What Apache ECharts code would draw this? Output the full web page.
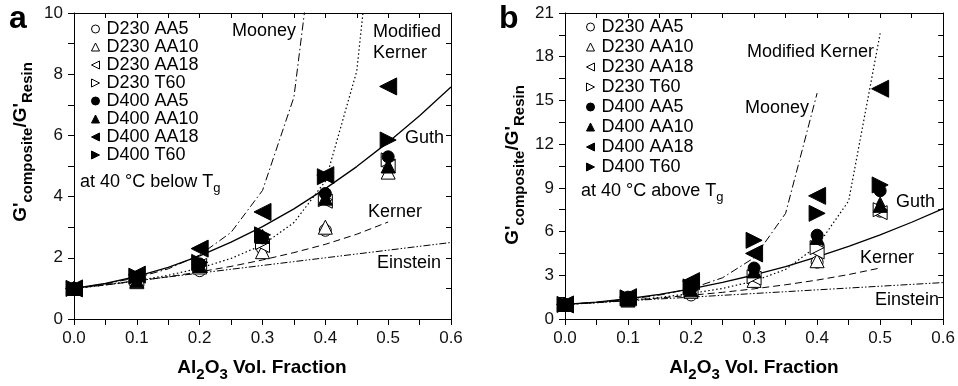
<!DOCTYPE html>
<html>
<head>
<meta charset="utf-8">
<script src="https://cdn.jsdelivr.net/npm/echarts@6/dist/echarts.min.js"></script>
<style>
html,body{margin:0;padding:0;background:#fff;}
#c{width:958px;height:386px;}
</style>
</head>
<body>
<div id="c"></div>
<script>
// ---- data ----
const xPts = [0, 0.1, 0.2, 0.3, 0.4, 0.5];
const seriesNames = ['D230 AA5','D230 AA10','D230 AA18','D230 T60','D400 AA5','D400 AA10','D400 AA18','D400 T60'];
// Panel a: 40 °C below Tg
const aD230AA5  = [1.0, 1.25, 1.58, 2.30, 2.90, 5.10];
const aD230AA10 = [1.0, 1.22, 1.70, 2.20, 3.00, 4.80];
const aD230AA18 = [1.0, 1.30, 1.75, 2.40, 3.85, 5.00];
const aD230T60  = [1.0, 1.30, 1.75, 2.50, 3.90, 5.20];
const aD400AA5  = [1.0, 1.30, 1.80, 2.65, 4.10, 5.30];
const aD400AA10 = [1.0, 1.25, 1.75, 2.70, 3.95, 5.00];
const aD400AA18 = [1.0, 1.45, 2.30, 3.50, 4.70, 7.60];
const aD400T60  = [1.0, 1.40, 1.85, 2.75, 4.65, 5.85];
// Panel b: 40 °C above Tg
const bD230AA5  = [1.0, 1.35, 1.65, 2.60, 3.90, 7.40];
const bD230AA10 = [1.0, 1.30, 1.90, 2.65, 4.00, 7.90];
const bD230AA18 = [1.0, 1.40, 2.00, 2.80, 4.60, 7.30];
const bD230T60  = [1.0, 1.40, 2.00, 2.90, 4.90, 7.50];
const bD400AA5  = [1.0, 1.50, 2.10, 3.50, 5.75, 8.80];
const bD400AA10 = [1.0, 1.35, 2.00, 3.30, 5.60, 7.80];
const bD400AA18 = [1.0, 1.50, 2.60, 4.50, 8.45, 15.80];
const bD400T60  = [1.0, 1.45, 2.20, 5.40, 7.25, 9.20];
// model curves (read at 0.05 steps)
const modelX     = [0, 0.05, 0.1, 0.15, 0.2, 0.25, 0.3, 0.35, 0.4, 0.45, 0.5, 0.55, 0.6];
const einstein   = [1.0, 1.125, 1.25, 1.375, 1.5, 1.625, 1.75, 1.875, 2.0, 2.125, 2.25, 2.375, 2.5];
const guth       = [1.0, 1.16, 1.39, 1.69, 2.06, 2.51, 3.02, 3.60, 4.26, 4.98, 5.78, 6.64, 7.58];
const kernerA    = [1.0, 1.11, 1.24, 1.38, 1.54, 1.72, 1.93, 2.17, 2.44, 2.77, 3.17];
const kernerB    = [1.0, 1.13, 1.28, 1.44, 1.63, 1.83, 2.07, 2.35, 2.67, 3.05, 3.50];
const mooney     = [1.0, 1.15, 1.35, 1.64, 2.09, 2.83, 4.20, 7.25, 15.5];
const modKernerA = [1.0, 1.11, 1.25, 1.43, 1.66, 1.98, 2.42, 3.15, 4.50, 8.10, 17.7];
const modKernerB = [1.0, 1.12, 1.28, 1.48, 1.75, 2.10, 2.60, 3.40, 5.00, 8.10, 19.6];
const xTickLabels = ['0.0','0.1','0.2','0.3','0.4','0.5','0.6'];

// ---- styles ----
const FF = '"Liberation Sans", Arial, Helvetica, sans-serif';
const TRI_LEFT = 'path://M10,0 L0,5 L10,10 Z';
const TRI_RIGHT = 'path://M0,0 L10,5 L0,10 Z';
const markers = [
  {symbol:'circle', size:12, fill:'#fff'},
  {symbol:'triangle', size:14, fill:'#fff'},
  {symbol:TRI_LEFT, size:14, fill:'#fff'},
  {symbol:TRI_RIGHT, size:14, fill:'#fff'},
  {symbol:'circle', size:12, fill:'#000'},
  {symbol:'triangle', size:14, fill:'#000'},
  {symbol:TRI_LEFT, size:17, fill:'#000'},
  {symbol:TRI_RIGHT, size:16, fill:'#000'}
];
const panelA = [aD230AA5,aD230AA10,aD230AA18,aD230T60,aD400AA5,aD400AA10,aD400AA18,aD400T60];
const panelB = [bD230AA5,bD230AA10,bD230AA18,bD230T60,bD400AA5,bD400AA10,bD400AA18,bD400T60];

function pairs(xs, ys){ return ys.map((y,i)=>[xs[i], y]); }

function curve(name, xi, yi, ys, type, width){
  return {
    name: name, type:'line', xAxisIndex:xi, yAxisIndex:yi,
    data: pairs(modelX, ys), showSymbol:false, symbol:'none', silent:true,
    clip:true, z:1,
    lineStyle:{color:'#000', width: width||1, type:type}
  };
}
function scatterSeries(panel, xi, yi){
  return panel.map((ys, k)=>({
    name: seriesNames[k], type:'scatter', xAxisIndex:xi, yAxisIndex:yi,
    data: pairs(xPts, ys), symbol: markers[k].symbol, symbolSize: markers[k].size,
    itemStyle:{color:markers[k].fill, borderColor:'#000', borderWidth:1, opacity:1},
    z:3, clip:false
  }));
}

function xAxisPair(grid){
  const base = {
    gridIndex:grid, type:'value', min:0, max:0.6, interval:0.1,
    axisLine:{show:true, onZero:false, lineStyle:{color:'#000', width:1}},
    splitLine:{show:false}, minorSplitLine:{show:false}
  };
  return [
    Object.assign({}, base, {
      position:'bottom',
      axisTick:{show:true, inside:false, length:6, lineStyle:{color:'#000'}},
      minorTick:{show:true, splitNumber:2, length:6, lineStyle:{color:'#000'}},
      axisLabel:{show:true, fontSize:17, color:'#111', fontFamily:FF, margin:11,
        formatter:(v)=>xTickLabels[Math.round(v*10)]}
    }),
    Object.assign({}, base, {
      position:'top',
      axisTick:{show:true, inside:true, length:5, lineStyle:{color:'#000'}},
      minorTick:{show:true, splitNumber:2, length:5, lineStyle:{color:'#000'}},
      axisLabel:{show:false}
    })
  ];
}
function yAxisPair(grid, max, interval){
  const base = {
    gridIndex:grid, type:'value', min:0, max:max, interval:interval,
    axisLine:{show:true, onZero:false, lineStyle:{color:'#000', width:1}},
    splitLine:{show:false}, minorSplitLine:{show:false}
  };
  return [
    Object.assign({}, base, {
      position:'left',
      axisTick:{show:true, inside:false, length:6, lineStyle:{color:'#000'}},
      minorTick:{show:true, splitNumber:2, length:6, lineStyle:{color:'#000'}},
      axisLabel:{show:true, fontSize:17, color:'#111', fontFamily:FF, margin:11}
    }),
    Object.assign({}, base, {
      position:'right',
      axisTick:{show:true, inside:true, length:5, lineStyle:{color:'#000'}},
      minorTick:{show:true, splitNumber:2, length:5, lineStyle:{color:'#000'}},
      axisLabel:{show:false}
    })
  ];
}

const DASH = [7,4];
const DOT = [1.5,2.5];
const DASHDOT = [8,3,1.5,3];
const DASHDOTDOT = [7,2,1.5,2,1.5,2];

const series = [
  curve('Einstein a',0,0,einstein,DASHDOTDOT,1),
  curve('Kerner a',0,0,kernerA,DASH,1),
  curve('Guth a',0,0,guth,'solid',1.3),
  curve('Mooney a',0,0,mooney,DASHDOT,1),
  curve('Modified Kerner a',0,0,modKernerA,DOT,1.2),
  curve('Einstein b',2,2,einstein,DASHDOTDOT,1),
  curve('Kerner b',2,2,kernerB,DASH,1),
  curve('Guth b',2,2,guth,'solid',1.3),
  curve('Mooney b',2,2,mooney,DASHDOT,1),
  curve('Modified Kerner b',2,2,modKernerB,DOT,1.2)
].concat(scatterSeries(panelA,0,0)).concat(scatterSeries(panelB,2,2));

function txt(x, y, text, opts){
  return {type:'text', x:x, y:y, z:100, silent:true,
    style:Object.assign({text:text, fill:'#000', font:'18px '+FF, align:'left', verticalAlign:'middle'}, opts||{})};
}
const richMain = {
  g:{fontSize:19, fontWeight:'bold', fontFamily:FF, color:'#000', lineHeight:28, verticalAlign:'middle'},
  s:{fontSize:15, fontWeight:'bold', fontFamily:FF, color:'#000', lineHeight:15, verticalAlign:'bottom'}
};
const richT = {
  t:{fontSize:18, fontFamily:FF, color:'#000', lineHeight:26, verticalAlign:'middle'},
  s:{fontSize:13, fontFamily:FF, color:'#000', lineHeight:13, verticalAlign:'bottom'}
};
function richText(x, y, text, rich, rot){
  return {type:'text', x:x, y:y, rotation:rot||0, z:100, silent:true,
    style:{text:text, rich:rich, align:'center', verticalAlign:'middle', fill:'#000'}};
}

const graphics = [
  txt(9, 19, 'a', {font:'bold 32px '+FF}),
  txt(499, 19, 'b', {font:'bold 32px '+FF}),
  // panel a labels
  txt(232, 31, 'Mooney'),
  txt(373, 32, 'Modified'),
  txt(373, 53, 'Kerner'),
  txt(405, 138, 'Guth'),
  txt(368, 212, 'Kerner'),
  txt(377, 263, 'Einstein'),
  {type:'text', x:80, y:182, z:100, silent:true, style:{text:'{t|at 40 °C below T}{s|g}', rich:richT, align:'left', verticalAlign:'middle'}},
  // panel b labels
  txt(747, 52, 'Modified Kerner'),
  txt(745, 108, 'Mooney'),
  txt(896, 202, 'Guth'),
  txt(860, 258, 'Kerner'),
  txt(875, 300, 'Einstein'),
  {type:'text', x:581, y:191, z:100, silent:true, style:{text:'{t|at 40 °C above T}{s|g}', rich:richT, align:'left', verticalAlign:'middle'}},
  // axis titles
  richText(262, 368, '{g|Al}{s|2}{g|O}{s|3}{g| Vol. Fraction}', richMain, 0),
  richText(754, 368, '{g|Al}{s|2}{g|O}{s|3}{g| Vol. Fraction}', richMain, 0),
  richText(21, 142, "{g|G'}{s|composite}{g|/G'}{s|Resin}", richMain, Math.PI/2),
  richText(513, 165, "{g|G'}{s|composite}{g|/G'}{s|Resin}", richMain, Math.PI/2)
];

const legendBase = {
  orient:'vertical', padding:0, itemWidth:8, itemHeight:8, selectedMode:false,
  data: seriesNames,
  textStyle:{fontSize:18, color:'#000', fontFamily:FF, lineHeight:18, padding:[0,0,0,2]},
  itemStyle:{borderColor:'#000', borderWidth:1}
};

const option = {
  animation:false,
  backgroundColor:'#fff',
  textStyle:{fontFamily:FF},
  grid:[
    {left:74, top:13, width:377, height:306, containLabel:false},
    {left:565, top:13, width:379, height:306, containLabel:false}
  ],
  xAxis: xAxisPair(0).concat(xAxisPair(1)),
  yAxis: yAxisPair(0,10,2).concat(yAxisPair(1,21,3)),
  legend:[
    Object.assign({}, legendBase, {left:91, top:20, itemGap:0}),
    Object.assign({}, legendBase, {left:586, top:18, itemGap:2})
  ],
  series: series,
  graphic: graphics
};

const chart = echarts.init(document.getElementById('c'), null, {renderer:'canvas'});
chart.setOption(option);
</script>
</body>
</html>
